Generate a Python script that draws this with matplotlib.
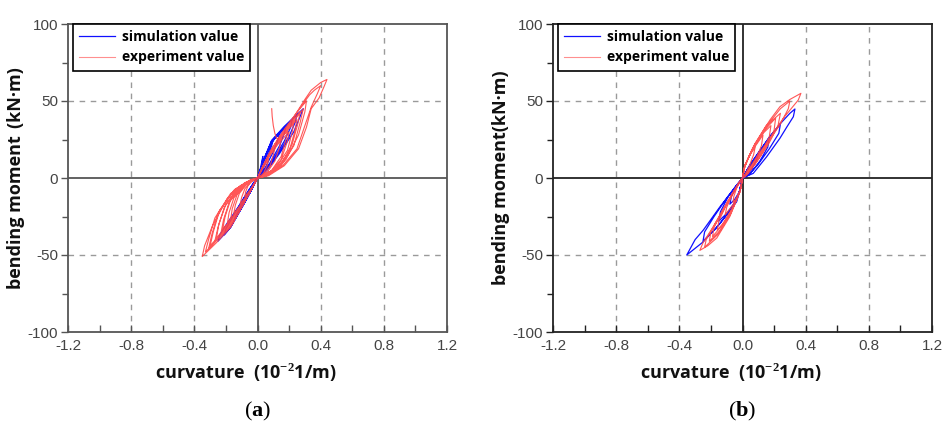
import numpy as np
import matplotlib
matplotlib.use("Agg")
import matplotlib.pyplot as plt
from matplotlib.ticker import MultipleLocator, FixedLocator

# ---------------- data (curvature 1e-2 1/m, bending moment kN·m) ----------------
x_ticks = [-1.2, -0.8, -0.4, 0.0, 0.4, 0.8, 1.2]
x_tick_labels = ["-1.2", "-0.8", "-0.4", "0.0", "0.4", "0.8", "1.2"]
y_ticks = [-100, -50, 0, 50, 100]
y_tick_labels = ["-100", "-50", "0", "50", "100"]

# panel (a) simulation
sim_a = [
    (0, 0), (0.02, 7), (0.034, 14), (0.03, 10), (0.015, 3), (0, 0),
    (-0.03, -6), (-0.05, -10), (-0.045, -7), (-0.025, -3), (0, 0),
    (0.04, 11), (0.08, 21), (0.10, 25), (0.09, 21), (0.06, 13), (0.03, 5), (0, 0),
    (-0.05, -10), (-0.10, -19), (-0.09, -16), (-0.06, -10), (-0.03, -4), (0, 0),
    (0.05, 13.5), (0.09, 23), (0.14, 29.5), (0.13, 25), (0.10, 17), (0.05, 7), (0, 0),
    (-0.07, -14), (-0.15, -28), (-0.14, -25), (-0.10, -17), (-0.05, -7.5), (0, 0),
    (0.05, 14), (0.09, 23.5), (0.14, 29), (0.18, 33.5), (0.17, 29), (0.14, 21), (0.08, 10), (0.03, 3), (0, 0),
    (-0.09, -17.5), (-0.17, -32), (-0.21, -37), (-0.20, -33), (-0.15, -24), (-0.08, -12), (0, 0),
    (0.05, 14), (0.09, 24), (0.15, 30), (0.22, 38), (0.21, 33), (0.17, 24), (0.10, 12), (0.04, 4), (0, 0),
    (-0.09, -17.5), (-0.17, -32), (-0.25, -41), (-0.24, -37), (-0.19, -29), (-0.12, -18.5), (-0.05, -7), (0, 0),
    (0.05, 14.5), (0.09, 24), (0.16, 32), (0.25, 41.5), (0.24, 36.5), (0.20, 27), (0.12, 14), (0.05, 4.5), (0, 0),
    (0.05, 14.5), (0.09, 24.5), (0.17, 33.5), (0.29, 45), (0.27, 40), (0.23, 30), (0.14, 16), (0.06, 5), (0, 0),
]

# panel (a) experiment
exp_a = [
    (0, 0), (0.03, 6), (0.07, 12), (0.06, 8), (0.04, 3.5), (0.015, 0.5), (0, 0),
    (-0.04, -7), (-0.08, -12), (-0.075, -9), (-0.06, -5), (-0.03, -1.5), (0, 0),
    (0.04, 9), (0.08, 15), (0.11, 19), (0.10, 15), (0.08, 8), (0.04, 2.5), (0, 0),
    (-0.05, -9), (-0.11, -17), (-0.10, -12.5), (-0.08, -7), (-0.04, -2), (0, 0),
    (0.05, 11), (0.10, 19), (0.15, 25), (0.14, 20), (0.11, 11), (0.06, 3.5), (0, 0),
    (-0.07, -12.5), (-0.15, -23), (-0.14, -17.5), (-0.115, -10), (-0.06, -3), (0, 0),
    (0.06, 12), (0.13, 22), (0.20, 30), (0.19, 24), (0.15, 12), (0.08, 3.5), (0, 0),
    (-0.08, -15), (-0.17, -27), (-0.16, -20), (-0.13, -11), (-0.07, -3), (0, 0),
    (0.06, 13), (0.12, 23), (0.19, 31), (0.18, 25), (0.15, 14), (0.09, 5), (0.03, 0.8), (0, 0),
    (-0.09, -16), (-0.19, -29), (-0.18, -22.5), (-0.15, -13), (-0.08, -4), (0, 0),
    (0.07, 14), (0.15, 26), (0.25, 38), (0.235, 30), (0.20, 17), (0.12, 6), (0, 0),
    (-0.10, -19), (-0.22, -33), (-0.205, -25), (-0.17, -14), (-0.09, -4), (0, 0),
    (0.07, 15), (0.14, 27), (0.23, 37), (0.22, 30), (0.19, 18), (0.12, 7), (0.04, 1), (0, 0),
    (-0.11, -20), (-0.23, -35), (-0.215, -27), (-0.18, -16), (-0.10, -5), (0, 0),
    (0.08, 16), (0.17, 29), (0.29, 45), (0.27, 36), (0.23, 21), (0.15, 8), (0, 0),
    (-0.12, -22), (-0.26, -39), (-0.245, -30), (-0.20, -17), (-0.11, -5), (0, 0),
    (0.08, 17), (0.16, 30), (0.27, 43), (0.255, 35), (0.22, 22), (0.15, 9), (0.05, 1.5), (0, 0),
    (-0.13, -24), (-0.27, -41), (-0.25, -32), (-0.21, -19), (-0.12, -6), (-0.04, -1), (0, 0),
    (-0.14, -26), (-0.30, -44), (-0.28, -35), (-0.24, -21), (-0.14, -7), (0, 0),
    (0.09, 19), (0.18, 33), (0.26, 44), (0.31, 50), (0.30, 43), (0.26, 28), (0.18, 12), (0.07, 2), (0, 0),
    (-0.15, -28), (-0.31, -46), (-0.29, -37), (-0.25, -23), (-0.15, -8), (-0.05, -1.5), (0, 0),
    (-0.16, -30), (-0.33, -48), (-0.31, -40), (-0.27, -26), (-0.17, -10), (0, 0),
    (0.10, 20), (0.20, 35), (0.28, 47), (0.33, 54), (0.36, 57), (0.40, 60), (0.38, 55), (0.34, 46),
    (0.30, 34), (0.25, 19), (0.16, 8), (0.06, 1.5), (0, 0),
    (-0.17, -32), (-0.26, -42), (-0.35, -51), (-0.335, -44), (-0.285, -31), (-0.19, -13), (-0.08, -3), (0, 0),
    (0.11, 21), (0.22, 38), (0.30, 51), (0.34, 57), (0.40, 62), (0.44, 64), (0.42, 59), (0.39, 52),
    (0.34, 45), (0.31, 33), (0.26, 19), (0.17, 8), (0.07, 1.5), (0, 0),
    (np.nan, np.nan),
    (0.09, 45), (0.093, 40), (0.10, 34), (0.11, 29), (0.12, 26), (0.14, 23),
]

# panel (b) simulation
sim_b = [
    (0, 0), (0.03, 5), (0.07, 11), (0.10, 16), (0.09, 12), (0.06, 6), (0.025, 1.5), (0, 0),
    (-0.02, -9), (-0.05, -14), (-0.08, -17), (-0.07, -12), (-0.04, -6), (0, 0),
    (0.04, 7), (0.10, 16), (0.17, 26), (0.16, 20), (0.11, 11), (0.05, 3), (0, 0),
    (-0.02, -9), (-0.05, -16), (-0.10, -23), (-0.15, -28), (-0.14, -22), (-0.09, -12), (-0.04, -5), (0, 0),
    (0.045, 8), (0.11, 17.5), (0.17, 26.5), (0.24, 35), (0.23, 29), (0.17, 19), (0.10, 9), (0.04, 2), (0, 0),
    (-0.02, -9), (-0.04, -15), (-0.10, -24), (-0.17, -33), (-0.25, -41), (-0.24, -35), (-0.18, -25),
    (-0.10, -13), (-0.04, -5), (0, 0),
    (0.05, 9), (0.111, 18), (0.174, 27), (0.237, 35), (0.30, 42), (0.332, 44.8), (0.322, 39.8),
    (0.28, 33), (0.237, 25.8), (0.153, 13.8), (0.068, 3), (0, 0),
    (-0.02, -9), (-0.037, -15.4), (-0.142, -29.4), (-0.248, -41.4), (-0.353, -50), (-0.30, -40),
    (-0.248, -33.8), (-0.142, -18.6), (-0.058, -7.8), (0, 0),
]

# panel (b) experiment
exp_b = [
    (0, 0), (0.01, 6), (0.04, 14), (0.08, 20), (0.07, 15), (0.04, 7), (0.015, 2), (0, 0),
    (-0.01, -6), (-0.03, -12), (-0.06, -16), (-0.055, -12), (-0.035, -6), (-0.01, -1.5), (0, 0),
    (0.012, 7), (0.05, 16), (0.13, 28), (0.12, 21), (0.08, 11), (0.03, 3), (0, 0),
    (-0.012, -7), (-0.05, -16), (-0.11, -24), (-0.10, -19), (-0.06, -10), (-0.02, -2.5), (0, 0),
    (0.014, 7.5), (0.06, 18.5), (0.12, 28), (0.18, 34), (0.17, 27), (0.12, 16), (0.06, 7), (0.02, 1.5), (0, 0),
    (-0.014, -8), (-0.06, -19), (-0.12, -29), (-0.16, -34), (-0.15, -28), (-0.10, -17), (-0.05, -8),
    (-0.015, -2), (0, 0),
    (0.013, 7), (0.055, 17), (0.14, 31), (0.21, 39), (0.20, 31), (0.15, 20), (0.08, 9), (0.025, 2), (0, 0),
    (-0.013, -7.5), (-0.065, -20), (-0.13, -31), (-0.19, -38), (-0.18, -32), (-0.13, -22), (-0.07, -11),
    (-0.02, -3), (0, 0),
    (0.015, 8), (0.07, 20.5), (0.15, 34), (0.24, 42), (0.225, 34), (0.17, 23), (0.10, 12), (0.035, 3), (0, 0),
    (-0.015, -8.5), (-0.07, -22), (-0.14, -34), (-0.21, -41), (-0.20, -35), (-0.15, -26), (-0.09, -15),
    (-0.03, -4), (0, 0),
    (0.016, 8.5), (0.08, 22), (0.17, 36), (0.24, 45), (0.30, 50), (0.29, 45), (0.24, 35), (0.16, 23),
    (0.08, 11), (0.03, 3), (0, 0),
    (-0.016, -9), (-0.08, -24), (-0.16, -37), (-0.24, -45), (-0.23, -40), (-0.17, -29), (-0.11, -18),
    (-0.05, -8), (0, 0),
    (0.016, 8.4), (0.08, 22.5), (0.174, 37.7), (0.237, 46.3), (0.30, 51), (0.37, 55), (0.353, 50.6),
    (0.30, 44), (0.258, 38.8), (0.174, 25.8), (0.09, 13.8), (0.03, 4), (0, 0),
    (-0.016, -9), (-0.08, -25), (-0.163, -39), (-0.22, -44), (-0.27, -47), (-0.25, -42), (-0.185, -31.6),
    (-0.12, -20), (-0.06, -10), (-0.02, -3), (0, 0),
]

panels = [
    ("a", sim_a, exp_a, "bending moment\u2009\u2009(kN·m)", "#555555"),
    ("b", sim_b, exp_b, "bending moment(kN·m)", "#222222"),
]

# ---------------- styling ----------------
plt.rcParams["mathtext.fontset"] = "custom"
plt.rcParams["mathtext.rm"] = "Liberation Serif"
plt.rcParams["mathtext.bf"] = "Liberation Serif:bold"

BLUE = "#1010ff"
RED = "#ff4545"
label_font = {"family": ["Open Sans", "DejaVu Sans"], "weight": "bold", "size": 13, "color": "#111111"}
tick_font = {"family": "Liberation Sans", "size": 11}

fig = plt.figure(figsize=(9.51, 4.26), dpi=100)
W, H = 951, 426
ax_lefts = [68, 553]
ax_top, ax_bottom = 24, 332
ax_w = 379

for (tag, sim, exp, ylab, axcol), left in zip(panels, ax_lefts):
    ax = fig.add_axes([left / W, 1 - ax_bottom / H, ax_w / W, (ax_bottom - ax_top) / H])
    ax.set_xlim(-1.2, 1.2)
    ax.set_ylim(-100, 100)

    for gx in [-0.8, -0.4, 0.4, 0.8]:
        ax.axvline(gx, color="#9a9a9a", lw=1.0, ls=(0, (4, 4)), zorder=1)
    for gy in [-50, 50]:
        ax.axhline(gy, color="#9a9a9a", lw=1.0, ls=(0, (4, 4)), zorder=1)
    ax.axvline(0, color=axcol, lw=1.3, zorder=1)
    ax.axhline(0, color=axcol, lw=1.3, zorder=1)

    sx = [p[0] for p in sim]
    sy = [p[1] for p in sim]
    ex = [p[0] for p in exp]
    ey = [p[1] for p in exp]
    ax.plot(sx, sy, color=BLUE, lw=0.9, zorder=3, label="simulation value")
    ax.plot(ex, ey, color=RED, lw=0.8, alpha=0.9, zorder=4, label="experiment value")

    ax.xaxis.set_major_locator(FixedLocator(x_ticks))
    ax.set_xticklabels(x_tick_labels, **tick_font)
    ax.xaxis.set_minor_locator(MultipleLocator(0.2))
    ax.yaxis.set_major_locator(FixedLocator(y_ticks))
    ax.set_yticklabels(y_tick_labels, **tick_font)
    ax.yaxis.set_minor_locator(MultipleLocator(25))
    ax.tick_params(axis="x", which="both", direction="in", top=False, pad=5, colors=axcol)
    ax.tick_params(axis="x", which="major", length=5, width=1)
    ax.tick_params(axis="x", which="minor", length=5, width=1)
    ax.tick_params(axis="y", which="both", direction="out", right=False, pad=2, colors=axcol)
    ax.tick_params(axis="y", which="major", length=5, width=1)
    ax.tick_params(axis="y", which="minor", length=4, width=1)
    for lab in ax.get_xticklabels() + ax.get_yticklabels():
        lab.set_color("#444444")
    for sp in ax.spines.values():
        sp.set_color(axcol)
        sp.set_linewidth(1.3)

    ax.set_xlabel("curvature  (10$^{\\mathbf{-2}}$1/m)", fontdict=label_font, labelpad=2)
    ax.xaxis.set_label_coords(0.47, -0.095)
    ax.set_ylabel(ylab, fontdict=label_font, labelpad=2)

    leg = ax.legend(loc="upper left", bbox_to_anchor=(0.012, 1.0), frameon=True, fancybox=False,
                    edgecolor="black", framealpha=1, handlelength=2.6, handletextpad=0.5,
                    borderpad=0.45, labelspacing=0.45, borderaxespad=0.0,
                    prop={"family": ["Open Sans", "DejaVu Sans"], "weight": "bold", "size": 10})
    leg.get_frame().set_linewidth(1.2)
    leg.set_zorder(10)
    leg.get_lines()[1].set_alpha(0.6)

    cx = (left + ax_w / 2) / W
    fig.text(cx, 1 - 411 / H, r"$(\mathbf{%s})$" % tag, ha="center", va="center", fontsize=16)

fig.savefig("out.png", dpi=100)
